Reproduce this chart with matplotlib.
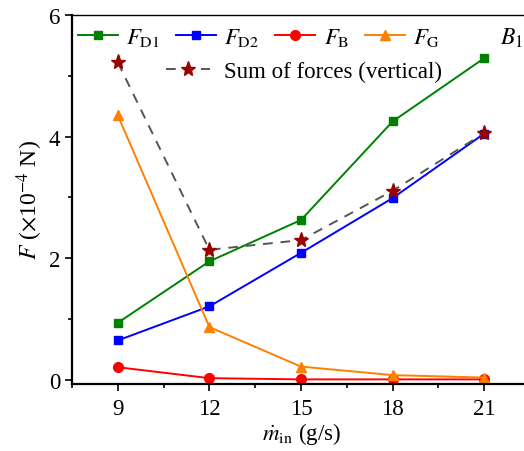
import matplotlib
matplotlib.use("Agg")
import matplotlib.pyplot as plt
from matplotlib.ticker import MultipleLocator

plt.rcParams['font.family'] = ['Liberation Serif', 'DejaVu Serif']
plt.rcParams['mathtext.fontset'] = 'stix'

m_in = [9, 12, 15, 18, 21]
F_D1 = [0.94, 1.95, 2.63, 4.25, 5.29]
F_D2 = [0.65, 1.21, 2.09, 2.99, 4.05]
F_B = [0.21, 0.03, 0.01, 0.01, 0.01]
F_G = [4.35, 0.87, 0.22, 0.08, 0.04]
F_sum = [5.22, 2.14, 2.30, 3.11, 4.06]

fig = plt.figure(figsize=(5.24, 4.52), dpi=100)
ax = fig.add_axes([72/524, 1-385/452, 458/524, (385-16)/452])

lw = 1.4
h1, = ax.plot(m_in, F_D1, color='#008000', marker='s', ms=6, lw=lw, label=r'$F_{\mathrm{D1}}$')
h2, = ax.plot(m_in, F_D2, color='#0000ff', marker='s', ms=6, lw=lw, label=r'$F_{\mathrm{D2}}$')
h3, = ax.plot(m_in, F_B, color='#ff0000', marker='o', ms=7, lw=lw, label=r'$F_{\mathrm{B}}$')
h4, = ax.plot(m_in, F_G, color='#ff8000', marker='^', ms=7.5, lw=lw, label=r'$F_{\mathrm{G}}$')
h5, = ax.plot(m_in, F_sum, color='#555555', ls=(0, (5, 4)), lw=lw, marker='*', ms=11,
              mfc='#990000', mec='#990000', label='Sum of forces (vertical)', zorder=3)

ax.set_xlim(7.5, 22.5)
ax.set_ylim(-0.066, 6)
ax.set_xticks(m_in)
ax.set_yticks([0, 2, 4, 6])
ax.xaxis.set_minor_locator(MultipleLocator(1.5))
ax.yaxis.set_minor_locator(MultipleLocator(1))
ax.tick_params(which='major', direction='out', length=5, width=1.2, labelsize=16.5)
ax.tick_params(which='minor', direction='out', length=3, width=1.2)
ax.tick_params(axis='x', pad=5)
for s in ['left', 'bottom']:
    ax.spines[s].set_linewidth(1.6)
ax.spines['top'].set_linewidth(1.0)
ax.spines['right'].set_visible(False)

ax.set_xlabel(r'$\dot{m}_{\mathrm{in}}$ (g/s)', fontsize=16.5, labelpad=1)
ax.set_ylabel(r'$F$ ($\times$10$^{-4}$ N)', fontsize=17, labelpad=3)

leg1 = fig.legend(handles=[h1, h2, h3, h4], loc='center left', ncol=4, frameon=False,
                  fontsize=16.5, bbox_to_anchor=(78/524, 1-38/452), handlelength=1.75,
                  columnspacing=0.7, handletextpad=0.35, borderaxespad=0, borderpad=0)
fig.legend(handles=[h5], loc='center left', frameon=False, fontsize=16.5,
           bbox_to_anchor=(166/524, 1-72/452), handlelength=1.9, handletextpad=0.65,
           borderaxespad=0, borderpad=0)

fig.text(500/524, 1-38/452, r'$B_1$', fontsize=17, ha='left', va='center')

fig.savefig('out.png', dpi=100)
